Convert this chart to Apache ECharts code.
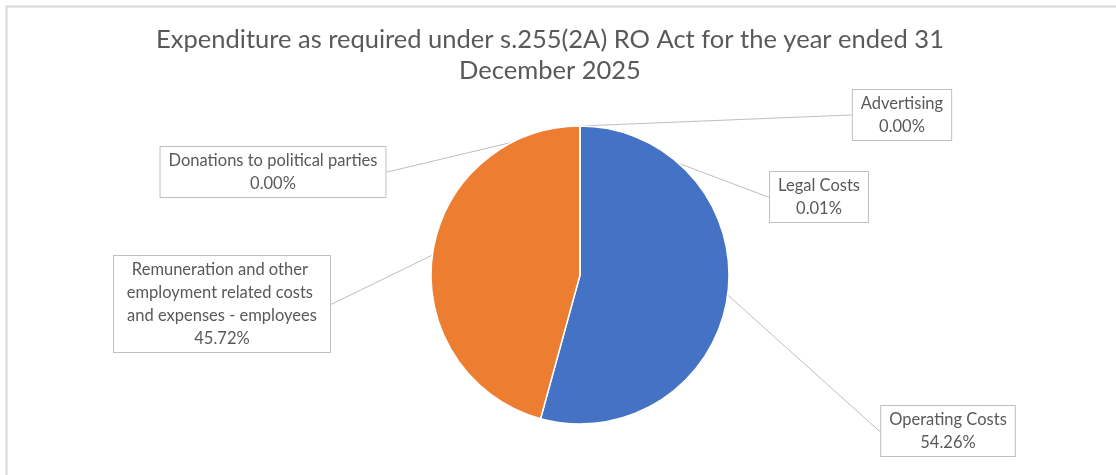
<!DOCTYPE html>
<html>
<head>
<meta charset="utf-8">
<script src="https://cdn.jsdelivr.net/npm/echarts@6/dist/echarts.min.js"></script>
<style>
  html, body { margin: 0; padding: 0; background: #fff; }
  #chart { width: 1116px; height: 475px; }
</style>
</head>
<body>
<div id="chart"></div>
<script>
// ---- data ----
const titleText = 'Expenditure as required under s.255(2A) RO Act for the year ended 31\nDecember 2025';
const categories = [
  'Operating Costs',
  'Remuneration and other employment related costs and expenses - employees',
  'Legal Costs',
  'Advertising',
  'Donations to political parties'
];
const sharePercent = [54.26, 45.72, 0.01, 0.00, 0.00];
const sliceColors = ['#4472C4', '#ED7D31', '#A5A5A5', '#FFC000', '#5B9BD5'];

// ---- layout / style ----
const labelCenters = [
  [948, 431],
  [222, 304],
  [819, 197],
  [902, 115],
  [273, 172]
];
const FONT = 'Lato, "Open Sans", sans-serif';

const chart = echarts.init(document.getElementById('chart'), null, { renderer: 'canvas' });

const seriesData = categories.map((name, i) => {
  const item = { name: name, value: sharePercent[i], itemStyle: { color: sliceColors[i] } };
  if (i === 1) item.label = { width: 200, overflow: 'break' };
  return item;
});

chart.setOption({
  animation: false,
  backgroundColor: '#fff',
  title: {
    text: titleText,
    left: 545,
    top: 19,
    textAlign: 'center',
    textStyle: { fontFamily: FONT, fontSize: 25.5, fontWeight: 'normal', color: '#595959', lineHeight: 31 }
  },
  graphic: [{
    type: 'rect',
    shape: { x: 6.5, y: 6.5, width: 1300, height: 700 },
    style: { fill: 'none', stroke: '#d9d9d9', lineWidth: 2 },
    silent: true
  }],
  series: [{
    type: 'pie',
    center: [580, 275],
    radius: 149,
    startAngle: 90,
    clockwise: true,
    avoidLabelOverlap: false,
    minShowLabelAngle: 0,
    data: seriesData,
    itemStyle: { borderColor: '#fff', borderWidth: 1.5 },
    label: {
      show: true,
      position: 'outside',
      fontFamily: FONT,
      fontSize: 16.5,
      lineHeight: 23,
      color: '#595959',
      align: 'center',
      backgroundColor: '#fff',
      borderColor: '#bfbfbf',
      borderWidth: 1,
      padding: [2, 8, 2, 8],
      formatter: p => p.name + '\n' + p.value.toFixed(2) + '%'
    },
    labelLine: {
      show: true,
      length: 1,
      length2: 1,
      lineStyle: { color: '#bfbfbf', width: 1 }
    },
    labelLayout: function (params) {
      const c = labelCenters[params.dataIndex];
      return { x: c[0], y: c[1], align: 'center', verticalAlign: 'middle', moveOverlap: false };
    }
  }]
});
</script>
</body>
</html>
